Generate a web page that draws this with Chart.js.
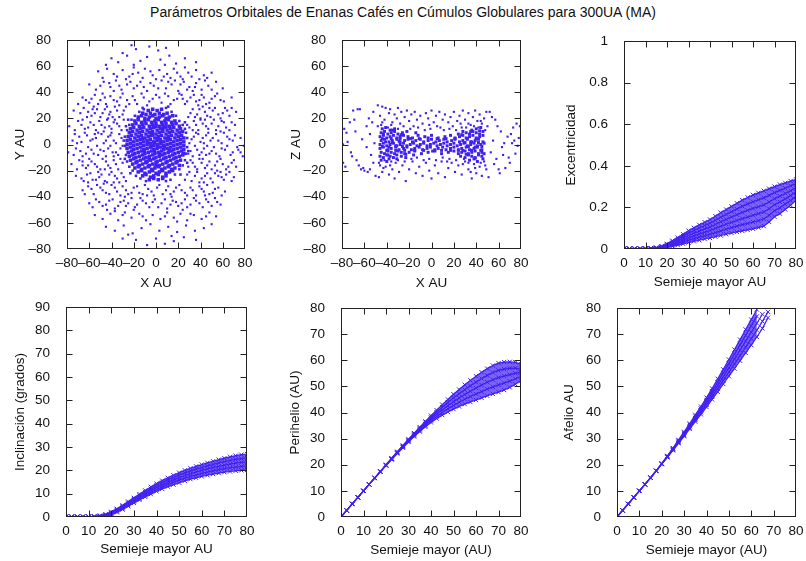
<!DOCTYPE html>
<html><head><meta charset="utf-8">
<script src="https://cdn.jsdelivr.net/npm/chart.js@4.4.1/dist/chart.umd.min.js"></script>
<style>
html,body{margin:0;padding:0;background:#fff;width:806px;height:561px;overflow:hidden;}
canvas{position:absolute;left:0;top:0;}
#title{position:absolute;left:0;width:806px;top:4px;text-align:center;font:14px 'Liberation Sans',Arial,sans-serif;color:#111;line-height:16px;}
</style></head><body>
<div id="title">Parámetros Orbitales de Enanas Cafés en Cúmulos Globulares para 300UA (MA)</div>
<canvas id="c1" width="806" height="561"></canvas>
<canvas id="c2" width="806" height="561"></canvas>
<canvas id="c3" width="806" height="561"></canvas>
<canvas id="c4" width="806" height="561"></canvas>
<canvas id="c5" width="806" height="561"></canvas>
<canvas id="c6" width="806" height="561"></canvas>
<script>
// ---------- tick values & labels ----------
const posTicks = [-80,-60,-40,-20,0,20,40,60,80];
const posLabels = ['–80','–60','–40','–20','0','20','40','60','80'];
const semiTicks = [0,10,20,30,40,50,60,70,80];
const semiLabels = ['0','10','20','30','40','50','60','70','80'];
const eccTicks = [0,0.2,0.4,0.6,0.8,1];
const eccLabels = ['0','0.2','0.4','0.6','0.8','1'];
const incTicks = [0,10,20,30,40,50,60,70,80,90];
const incLabels = ['0','10','20','30','40','50','60','70','80','90'];
const distTicks = [0,10,20,30,40,50,60,70,80];
const distLabels = ['0','10','20','30','40','50','60','70','80'];

// ---------- X-Y positions (flat x,y pairs) ----------
const xyCore = [
-7,26,-3,27,1,26,5,27,
-12,24,-9,23,-5,24,-1,23,3,24,7,23,10,24,
-16,21,-13,22,-10,20,-6,21,-3,22,0,20,3,21,6,22,9,20,12,21,15,22,
-19,18,-16,19,-13,17,-10,18,-7,19,-4,17,-1,18,2,19,5,17,8,18,11,19,14,17,17,18,
-21,15,-18,16,-15,14,-12,15,-9,16,-6,14,-3,15,0,16,3,14,6,15,9,16,12,14,15,15,18,16,21,14,
-23,12,-20,13,-17,11,-14,12,-11,13,-8,11,-5,12,-2,13,1,11,4,12,7,13,10,11,13,12,16,13,19,11,22,12,
-24,9,-21,10,-18,8,-15,9,-12,10,-9,8,-6,9,-3,10,0,8,3,9,6,10,9,8,12,9,15,10,18,8,21,9,24,10,
-25,6,-22,7,-19,5,-16,6,-13,7,-10,5,-7,6,-4,7,-1,5,2,6,5,7,8,5,11,6,14,7,17,5,20,6,23,7,25,5,
-26,3,-23,4,-20,2,-17,3,-14,4,-11,2,-8,3,-5,4,-2,2,1,3,4,4,7,2,10,3,13,4,16,2,19,3,22,4,25,2,
-26,0,-23,1,-20,-1,-17,0,-14,1,-11,-1,-8,0,-5,1,-2,-1,1,0,4,1,7,-1,10,0,13,1,16,-1,19,0,22,1,25,-1,
-26,-3,-23,-2,-20,-4,-17,-3,-14,-2,-11,-4,-8,-3,-5,-2,-2,-4,1,-3,4,-2,7,-4,10,-3,13,-2,16,-4,19,-3,22,-2,25,-4,
-25,-6,-22,-5,-19,-7,-16,-6,-13,-5,-10,-7,-7,-6,-4,-5,-1,-7,2,-6,5,-5,8,-7,11,-6,14,-5,17,-7,20,-6,23,-5,25,-7,
-24,-9,-21,-8,-18,-10,-15,-9,-12,-8,-9,-10,-6,-9,-3,-8,0,-10,3,-9,6,-8,9,-10,12,-9,15,-8,18,-10,21,-9,24,-8,
-23,-12,-20,-11,-17,-13,-14,-12,-11,-11,-8,-13,-5,-12,-2,-11,1,-13,4,-12,7,-11,10,-13,13,-12,16,-11,19,-13,22,-12,
-21,-15,-18,-14,-15,-16,-12,-15,-9,-14,-6,-16,-3,-15,0,-14,3,-16,6,-15,9,-14,12,-16,15,-15,18,-14,21,-16,
-19,-18,-16,-17,-13,-19,-10,-18,-7,-17,-4,-19,-1,-18,2,-17,5,-19,8,-18,11,-17,14,-19,17,-18,
-16,-21,-13,-20,-10,-22,-6,-21,-3,-20,0,-22,3,-21,6,-20,9,-22,12,-21,15,-20,
-12,-24,-9,-23,-5,-25,-2,-24,2,-23,6,-25,9,-24,
-6,-27,-2,-26,2,-27,6,-26,
-1.5,1.5,1.5,-1.5,-4.5,-1.5,4.5,1.5,-1.5,-4.5,1.5,4.5,-7.5,1.5,7.5,-1.5,-3,7.5,3,-7.5,
-10.5,-4.5,10.5,4.5,-6,-10.5,6,10.5,-12,4.5,12,-4.5,0,14,0,-16,-9,-13.5,9,13.5
];
const xyRim = [
-11,27,9,28,-15,25,14,25,-19,22,18,22,-22,19,21,18,-24,15,24,15,-26,11,26,12,-28,6,28,5,-28,-1,28,-2,
-27,-8,27,-7,-26,-13,26,-12,-24,-17,24,-16,-21,-20,21,-19,-18,-24,17,-23,-14,-26,13,-27,-9,-28,9,-28,
-25,19,-27,14,26,17,27,9,-29,3,29,-5,-28,-11,28,-14,-23,-22,22,-23,-12,28,11,29
];
const xyOuter = [
-22,76,-18,73,-6,75,2,72,9,74,-30,70,
-40,66,-34,63,-26,68,-14,64,-8,67,4,65,12,68,18,62,26,66,36,63,-45,61,-20,61,8,61,
-52,56,-44,58,-38,54,-30,57,-24,52,-16,55,-10,58,-3,53,3,57,10,54,16,58,22,52,29,55,36,57,43,53,50,55,-48,51,-20,59,26,59,
-60,46,-54,42,-47,48,-41,44,-36,49,-31,42,-26,46,-20,43,-14,48,-8,41,-2,45,5,49,9,43,14,46,20,41,25,48,30,44,36,47,41,42,47,45,54,48,60,43,-38,41,-11,44,17,49,33,41,44,49,
-66,36,-60,32,-55,38,-50,34,-45,31,-41,37,-35,33,-30,39,-26,34,-21,37,-17,31,-11,36,-6,33,0,38,5,32,11,37,16,34,21,39,26,31,31,36,36,33,41,38,45,31,50,35,55,39,61,33,68,36,-48,39,-33,30,24,35,38,30,-70,31,
-74,26,-65,28,-58,22,-53,27,-48,24,-44,29,-39,21,-35,26,-30,23,-27,29,29,21,33,27,37,23,42,29,46,22,51,26,56,23,62,28,66,22,72,25,-62,21,-42,23,48,28,58,20,-56,29,40,20,
-78,14,-70,18,-64,12,-59,17,-54,11,-49,15,-44,19,-40,12,-35,16,-31,11,30,13,34,18,38,11,42,16,47,12,52,19,56,14,61,17,66,11,71,15,-46,13,-37,19,44,19,58,10,-67,15,
-80,5,-73,8,-67,2,-62,7,-57,4,-52,9,-47,1,-43,6,-38,3,-33,8,32,4,36,9,40,2,45,7,49,3,54,8,59,1,64,6,69,3,76,5,79,-1,-55,8,-40,9,42,5,-71,1,
-79,-6,-72,-3,-66,-9,-61,-2,-56,-7,-50,-4,-45,-9,-41,-1,-36,-6,-32,-3,31,-5,35,-1,39,-8,43,-3,48,-7,52,-2,57,-9,62,-4,67,-8,73,-2,78,-9,-53,-1,-38,-9,46,-1,76,-6,
-76,-15,-69,-12,-63,-18,-58,-13,-53,-17,-48,-11,-43,-16,-38,-12,-34,-19,-30,-14,31,-12,35,-17,39,-11,44,-18,48,-13,53,-16,58,-11,63,-19,68,-14,72,-17,-60,-11,-46,-19,41,-14,55,-20,-66,-16,
-72,-24,-65,-28,-59,-22,-54,-27,-49,-23,-44,-29,-40,-21,-35,-26,-31,-22,-27,-28,28,-23,32,-28,37,-21,41,-26,46,-22,51,-29,56,-24,61,-27,66,-21,70,-25,-52,-21,-38,-29,43,-29,58,-21,-61,-29,
-66,-35,-61,-32,-56,-38,-50,-33,-45,-37,-40,-31,-35,-36,-30,-32,-25,-38,-20,-33,-15,-37,-10,-31,-4,-36,1,-33,6,-38,11,-32,16,-36,21,-31,26,-37,31,-33,36,-39,41,-34,46,-31,51,-37,56,-33,62,-36,-47,-30,-28,-40,14,-40,44,-39,-8,-39,
-60,-45,-54,-42,-48,-47,-42,-43,-37,-49,-32,-44,-27,-47,-22,-41,-17,-46,-12,-43,-6,-48,-1,-42,5,-45,10,-49,15,-43,20,-47,26,-42,31,-46,36,-43,42,-48,47,-44,53,-41,58,-46,-44,-50,24,-50,-20,-50,
-55,-54,-48,-57,-41,-53,-34,-58,-28,-52,-22,-56,-15,-53,-9,-58,-3,-54,4,-57,10,-52,16,-56,22,-53,28,-58,34,-54,41,-57,48,-52,54,-55,-37,-51,19,-59,
-45,-63,-37,-66,-29,-62,-21,-68,-13,-64,-5,-61,3,-66,11,-63,19,-67,27,-62,35,-66,43,-64,50,-61,-25,-69,14,-70,
-18,-73,-8,-77,0,-72,8,-76,16,-74,-30,-72,25,-71,36,-73
];
const xyMid = [
-35,52,-27,50,-21,54,-12,51,-5,56,0,50,7,52,13,51,19,55,24,50,32,52,39,50,46,51,-42,47,-33,45,-23,48,-17,45,-5,47,2,43,11,48,22,46,28,42,35,44,50,42,-50,45,
-58,35,-52,31,-46,36,-38,34,-32,36,-24,31,-19,34,-13,39,-8,30,-3,35,3,36,8,39,13,31,19,35,23,38,28,33,34,38,39,34,43,36,48,32,53,37,58,34,-63,34,
-68,24,-61,25,-55,24,-50,21,-46,27,-41,25,-37,29,-33,21,-29,26,31,24,35,21,39,27,44,25,49,21,53,28,60,24,64,26,68,28,-43,20,-57,27,
-73,11,-66,19,-61,13,-56,15,-51,18,-47,10,-42,14,-38,17,-33,14,-29,19,28,15,33,11,36,15,40,19,45,14,50,16,54,11,59,18,63,13,68,17,
-69,6,-64,9,-59,3,-54,5,-49,8,-45,3,-41,7,-36,1,-31,5,30,1,34,6,38,8,43,1,47,9,51,5,56,3,61,9,66,4,71,7,-75,3,
-74,-8,-68,-5,-63,-7,-58,-4,-52,-8,-47,-5,-43,-3,-39,-6,-34,-8,-30,-1,29,-7,33,-9,37,-4,41,-6,45,-8,50,-5,54,-7,59,-3,64,-1,69,-6,74,-4,
-71,-19,-66,-13,-61,-16,-55,-15,-50,-19,-45,-13,-41,-18,-36,-15,-32,-11,29,-17,33,-14,37,-19,42,-11,46,-16,50,-19,55,-13,60,-15,65,-17,70,-12,
-67,-26,-62,-23,-57,-27,-51,-25,-46,-28,-42,-23,-37,-24,-33,-29,-29,-25,26,-27,30,-21,35,-24,39,-29,44,-24,49,-26,53,-22,59,-25,63,-23,68,-28,
-64,-38,-58,-34,-53,-31,-48,-35,-42,-38,-37,-33,-32,-39,-27,-35,-22,-37,-17,-32,-12,-38,-7,-34,-2,-39,3,-31,9,-35,13,-38,18,-33,23,-35,28,-39,33,-35,39,-32,43,-36,48,-38,53,-34,59,-39,
-57,-48,-51,-44,-45,-46,-39,-42,-34,-47,-29,-43,-25,-45,-19,-48,-14,-41,-9,-45,-3,-44,2,-48,8,-42,13,-46,18,-44,23,-45,28,-48,34,-41,39,-45,45,-42,50,-47,55,-44,-30,-54,-12,-55,8,-55,31,-53,45,-55
];

// ---------- X-Z positions (flat x,z pairs) ----------
const xzFar = [
-80,24,-78,12,-79,-14,-77,-17,-75,2,-73,17,-72,-6,-70,26,-68,10,-67,-12,-66,27,-64,27,-63,-19,-62,4,-61,-18,-60,-20,-58,14,-58,-2,-57,-21,-56,20,-55,8,-55,-19,-54,-8,-53,17,-52,25,-52,-14,-51,1,-50,-24,-79,0,-76,9,-71,-9,-65,-16,-69,19,
79,14,78,5,77,-1,76,16,75,-7,74,3,73,13,72,1,70,-14,69,-10,68,6,66,-18,65,1,63,-2,62,10,61,-22,60,-19,59,14,57,19,56,-15,55,3,54,21,53,-6,52,25,51,-25,50,14,80,2,71,8,64,-8,58,-11
];
const xzScatter = [
-48,30,-44,29,-41,28,-37,27,-33,23,-30,28,-46,22,-42,19,-38,24,-35,17,-31,20,-27,25,-24,21,-22,26,-20,18,-18,23,-15,25,-13,19,-10,22,-8,16,-5,24,-3,20,0,26,2,17,4,22,7,25,10,19,12,23,15,17,17,21,20,25,23,18,25,22,28,26,30,19,33,24,35,15,37,21,39,26,41,18,43,23,45,16,47,20,49,25,-45,15,-28,16,-16,14,-2,15,8,13,19,14,26,16,42,13,-39,13,31,13,
-47,-25,-44,-21,-41,-17,-38,-23,-35,-19,-32,-14,-29,-21,-26,-16,-23,-28,-20,-19,-17,-13,-14,-22,-11,-17,-8,-24,-5,-14,-2,-20,0,-26,3,-16,6,-22,9,-13,12,-25,15,-18,18,-14,21,-21,24,-16,27,-23,30,-13,33,-19,36,-26,38,-15,40,-22,43,-17,45,-24,47,-13,49,-19,-42,-12,-36,-13,-46,-16,14,-13,28,-15,-33,-26,35,-21,
-48,14,-44,17,-36,15,-30,12,-25,14,-19,12,-12,13,-6,11,-1,12,5,14,11,11,16,12,22,11,27,13,33,16,38,14,44,18,48,11,
-47,-14,-43,-18,-37,-16,-30,-12,-24,-13,-18,-11,-13,-10,-7,-12,-2,-11,4,-12,10,-10,16,-11,22,-12,29,-11,33,-14,39,-18,44,-14,48,-16
];
const xzBelt = [
-46,0,-43,1,-40,-1,-37,0,-34,1,-31,-1,-28,0,-25,1,-22,-1,-19,0,-16,1,-13,-1,-10,0,-7,1,-4,-1,-1,0,2,1,5,-1,8,0,11,1,14,-1,17,0,20,1,23,-1,26,0,29,1,32,-1,35,0,38,1,41,-1,44,0,47,1,
-45,3,-42,4,-38,2,-35,3,-31,4,-28,2,-24,3,-21,4,-17,2,-14,3,-10,4,-7,2,-3,3,0,4,4,2,7,3,11,4,14,2,18,3,21,4,25,2,28,3,32,4,35,2,39,3,42,4,46,2,
-46,-3,-43,-2,-39,-4,-36,-3,-32,-2,-29,-4,-25,-3,-22,-2,-18,-4,-15,-3,-11,-2,-8,-4,-4,-3,-1,-2,3,-4,6,-3,10,-2,13,-4,17,-3,20,-2,24,-4,27,-3,31,-2,34,-4,38,-3,41,-2,45,-4,
-46,6,-43,7,-40,5,-37,6,-34,7,-31,5,-28,6,-25,7,-21,6,-17,5,-12,7,-6,6,0,7,6,5,12,6,17,7,21,5,25,6,28,7,31,5,34,6,37,7,40,5,43,6,46,7,
-45,-6,-42,-7,-39,-5,-36,-6,-33,-7,-30,-5,-27,-6,-24,-7,-20,-6,-15,-5,-9,-7,-3,-6,3,-5,9,-7,15,-6,20,-5,24,-7,27,-6,30,-5,33,-7,36,-6,39,-5,42,-7,45,-6,
-45,9,-42,10,-39,8,-36,9,-33,10,-30,8,-26,9,-22,10,-14,9,24,8,28,10,31,9,34,8,37,10,40,9,43,8,46,10,
-46,-9,-43,-10,-40,-8,-37,-9,-34,-10,-31,-8,-27,-9,-23,-10,-16,-8,26,-9,30,-10,33,-8,36,-9,39,-10,42,-8,45,-9,
-44,12,-41,13,-37,11,-33,12,36,11,40,12,44,13,
-45,-12,-40,-13,-38,-11,34,-12,38,-11,41,-13,46,-11,
-44,-1.5,-41,2,-38,-2,-35,1.5,-32,-1,-29,2.5,-26,-1.5,30,1.5,33,-1.5,36,2,39,-2,42,1.5,45,-1.5,
-44,4.5,-40,-4.5,-36,4.5,-32,-4.5,-28,4.5,-24,-4.5,28,-4.5,32,4.5,36,-4.5,40,4.5,44,-4.5,
-43,8,-39,-8,-35,11,-31,-11,-27,7.5,-23,-7.5,27,7.5,31,-7.5,35,10,39,-10.5,43,10.5,47,-7,
-19,4.5,-15,-4.5,-11,4.5,-7,-4.5,-3,5,1,-5,5,4.5,9,-4.5,13,4.5,17,-4.5,21,4.5,24,-4.5
];

// ---------- orbital elements vs semi-major axis ----------
const semi = [0,2.5,5,7.5,10,12.5,15,17.5,20,22.5,25,27.5,30,32.5,35,37.5,40,42.5,45,47.5,50,52.5,55,57.5,60,62.5,65,67.5,70,72.5,75,77.5,80];

const ecc1 = [0,0,0,0,0,0,0.001,0.004,0.008,0.013,0.019,0.025,0.031,0.037,0.042,0.048,0.053,0.059,0.065,0.071,0.077,0.082,0.087,0.092,0.097,0.103,0.11,0.13,0.155,0.17,0.19,0.21,0.235];
const ecc2 = [0,0,0,0,0.001,0.001,0.002,0.006,0.011,0.018,0.026,0.034,0.042,0.05,0.057,0.064,0.071,0.079,0.087,0.095,0.103,0.11,0.117,0.123,0.13,0.136,0.144,0.162,0.184,0.198,0.216,0.233,0.255];
const ecc3 = [0.001,0.001,0.001,0.001,0.001,0.002,0.003,0.008,0.015,0.024,0.033,0.043,0.054,0.063,0.072,0.08,0.089,0.099,0.109,0.119,0.128,0.137,0.146,0.154,0.162,0.17,0.178,0.194,0.213,0.226,0.241,0.257,0.275];
const ecc4 = [0.001,0.001,0.001,0.002,0.002,0.003,0.005,0.01,0.018,0.029,0.041,0.053,0.065,0.076,0.086,0.097,0.106,0.118,0.131,0.142,0.154,0.165,0.176,0.186,0.195,0.203,0.212,0.226,0.242,0.254,0.267,0.28,0.295];
const ecc5 = [0.002,0.002,0.002,0.002,0.003,0.004,0.006,0.012,0.022,0.035,0.048,0.062,0.077,0.089,0.101,0.113,0.124,0.138,0.153,0.166,0.179,0.192,0.205,0.217,0.227,0.237,0.246,0.258,0.271,0.282,0.292,0.304,0.315];
const ecc6 = [0.002,0.002,0.002,0.002,0.003,0.004,0.007,0.014,0.025,0.04,0.055,0.071,0.088,0.102,0.116,0.129,0.142,0.158,0.175,0.19,0.205,0.22,0.235,0.248,0.26,0.27,0.28,0.29,0.3,0.31,0.318,0.327,0.335];

const inc1 = [0,0,0,0,0,0,0.1,0.4,1.0,2.0,3.2,4.6,6.0,7.3,8.6,9.8,11.0,12.0,13.0,13.9,14.7,15.5,16.2,16.8,17.4,17.9,18.4,18.8,19.2,19.5,19.8,20.0,20.2];
const inc2 = [0.05,0.05,0.05,0.05,0.05,0.1,0.2,0.6,1.3,2.4,3.7,5.1,6.6,7.9,9.3,10.6,11.8,12.9,14.0,14.9,15.8,16.6,17.4,18.0,18.7,19.2,19.8,20.3,20.7,21.1,21.4,21.7,21.9];
const inc3 = [0.1,0.1,0.1,0.1,0.1,0.15,0.35,0.8,1.6,2.8,4.1,5.6,7.1,8.6,10.0,11.4,12.7,13.8,14.9,15.9,16.9,17.8,18.6,19.3,20.0,20.6,21.2,21.7,22.2,22.7,23.1,23.4,23.6];
const inc4 = [0.15,0.15,0.15,0.15,0.15,0.2,0.5,1.0,1.9,3.1,4.6,6.1,7.7,9.2,10.7,12.1,13.5,14.7,15.9,16.9,17.9,18.9,19.7,20.5,21.2,21.9,22.5,23.2,23.7,24.2,24.7,25.0,25.3];
const inc5 = [0.2,0.2,0.2,0.2,0.2,0.3,0.6,1.2,2.2,3.5,5.0,6.6,8.2,9.8,11.4,12.9,14.3,15.6,16.8,17.9,19.0,20.0,20.9,21.7,22.5,23.2,23.9,24.6,25.2,25.8,26.3,26.7,27.0];

const peri1 = [0,2.5,5,7.5,10,12.5,14.9,17.3,19.7,22.0,24.3,26.5,28.7,30.8,32.7,34.5,36.2,37.7,39.0,40.2,41.3,42.3,43.2,44.0,44.8,45.6,46.4,47.1,47.8,48.6,49.6,50.8,52.2];
const peri2 = [0,2.5,5,7.5,10,12.5,14.9,17.35,19.8,22.1,24.5,26.7,29.0,31.1,33.1,35.0,36.9,38.5,40.0,41.4,42.7,43.9,45.1,46.1,47.1,48.0,49.0,49.8,50.6,51.3,52.0,52.9,53.8];
const peri3 = [0,2.5,5,7.5,10,12.5,14.95,17.4,19.85,22.25,24.65,26.95,29.25,31.45,33.55,35.55,37.5,39.3,41.0,42.6,44.15,45.55,46.9,48.15,49.35,50.5,51.6,52.55,53.35,53.95,54.5,55.0,55.35];
const peri4 = [0,2.5,5,7.5,10,12.5,15.0,17.45,19.9,22.4,24.8,27.2,29.5,31.8,34.0,36.1,38.1,40.1,42.0,43.8,45.6,47.2,48.7,50.2,51.6,53.0,54.2,55.3,56.1,56.6,56.9,57.0,56.5];
const peri5 = [0,2.5,5,7.5,10,12.5,15,17.5,20,22.5,25,27.4,29.8,32.1,34.4,36.6,38.8,40.9,43.0,45.0,47.0,48.8,50.6,52.3,53.9,55.4,56.8,58.0,58.9,59.3,59.4,59.2,58.5];

const aph1 = [0,2.5,5,7.5,10,12.5,15.0,17.6,20.2,22.8,25.5,28.2,30.9,33.7,36.5,39.3,42.1,45.0,47.9,50.9,53.9,56.8,59.8,62.8,65.8,68.9,72.2,76.3];
const aph2 = [0,2.5,5,7.5,10,12.5,15.0,17.6,20.3,22.95,25.7,28.5,31.3,34.2,37.15,40.05,43.0,46.05,49.15,52.3,55.5,58.6,61.8,65.05,68.25,71.5,74.9,78.5];
const aph3 = [0,2.5,5,7.5,10,12.5,15.05,17.65,20.35,23.1,25.95,28.85,31.75,34.75,37.8,40.8,43.9,47.1,50.4,53.7,57.1,60.45,63.85,67.3,70.7,74.15,77.6];
const aph4 = [0,2.5,5,7.5,10,12.5,15.1,17.7,20.4,23.25,26.2,29.2,32.2,35.3,38.45,41.55,44.8,48.15,51.65,55.1,58.7,62.3,65.9,69.55,73.15,76.8];
const aph5 = [0,2.5,5,7.5,10,12.5,15.1,17.7,20.5,23.4,26.4,29.5,32.6,35.8,39.1,42.3,45.7,49.2,52.9,56.5,60.3,64.1,67.9,71.8,75.6,79.4];

// ---------- helpers ----------
const BLUE = 'rgb(64,32,240)';
const BAND = 'rgba(64,32,240,0.7)';
const FONT = {family: "'Liberation Sans', Arial, Helvetica, sans-serif", size: 13.5};
const TXT = '#111';
function pairs(a){const o=[];for(let i=0;i<a.length;i+=2)o.push({x:a[i],y:a[i+1]});return o;}
function track(xs, ys){const o=[];ys.forEach((y,i)=>{if(y!=null)o.push({x:xs[i],y});});return o;}
function dots(arr, r){return {data:pairs(arr), pointStyle:'rect', pointRadius:r, backgroundColor:BLUE, borderWidth:0, pointBorderWidth:0, showLine:false};}
function lines(list){
  return list.map((ys,i)=>({data:track(semi, ys), showLine:true, borderColor:BLUE, borderWidth:1.2,
    pointStyle:'crossRot', pointRadius:3, pointBorderWidth:1, pointBorderColor:BLUE,
    backgroundColor:BAND, fill: i===list.length-1 ? 0 : false, tension:0}));
}

const frame = {id:'frame', afterDatasetsDraw(chart){
  const {ctx, chartArea, scales} = chart;
  const L=Math.round(chartArea.left)+0.5, R=Math.round(chartArea.right)-0.5, T=Math.round(chartArea.top)+0.5, B=Math.round(chartArea.bottom)-0.5;
  ctx.save(); ctx.strokeStyle='#222'; ctx.lineWidth=1;
  ctx.strokeRect(L,T,R-L,B-T);
  ctx.beginPath();
  scales.x.ticks.forEach(t=>{const p=Math.round(scales.x.getPixelForValue(t.value))+0.5; if(p<=L+1||p>=R-1)return; ctx.moveTo(p,B); ctx.lineTo(p,B-6); ctx.moveTo(p,T); ctx.lineTo(p,T+6);});
  scales.y.ticks.forEach(t=>{const p=Math.round(scales.y.getPixelForValue(t.value))+0.5; if(p<=T+1||p>=B-1)return; ctx.moveTo(L,p); ctx.lineTo(L+6,p); ctx.moveTo(R,p); ctx.lineTo(R-6,p);});
  ctx.stroke(); ctx.restore();
}};

function axis(a, isX, g){
  return {type:'linear', position: isX?'bottom':'left', min:a.min, max:a.max,
    afterBuildTicks: s=>{ s.ticks = a.ticks.map(v=>({value:v})); },
    afterFit: s=>{ if(isX) s.height=g.xH; else s.width=g.yW; },
    ticks:{autoSkip:false, maxRotation:0, minRotation:0, padding: isX?-2:8, font:FONT, color:TXT, callback:(v,i)=>a.labels[i]},
    grid:{display:false}, border:{display:false},
    title:{display:true, text:a.title, font:FONT, color:TXT, padding:0}};
}
function make(id, g, xa, ya, datasets){
  new Chart(document.getElementById(id), {
    type:'scatter', data:{datasets},
    options:{responsive:false, animation:false, events:[],
      layout:{padding:{left:g.pl, right:g.pr, top:g.pt, bottom:g.pb}},
      plugins:{legend:{display:false}, tooltip:{enabled:false}},
      scales:{x:axis(xa,true,g), y:axis(ya,false,g)}},
    plugins:[frame]});
}

const posX = {min:-80,max:80,ticks:posTicks,labels:posLabels,title:'X AU'};
make('c1', {pl:12,yW:55,pr:561,pt:40,pb:270,xH:42}, posX,
  {min:-80,max:80,ticks:posTicks,labels:posLabels,title:'Y AU'},
  [dots(xyOuter,1.5), dots(xyMid,1.5), dots(xyRim,1.8), dots(xyCore,2.5)]);
make('c2', {pl:288,yW:54,pr:285,pt:40,pb:270,xH:42}, posX,
  {min:-80,max:80,ticks:posTicks,labels:posLabels,title:'Z AU'},
  [dots(xzFar,1.5), dots(xzScatter,1.5), dots(xzBelt,2.1)]);
make('c3', {pl:563,yW:61,pr:10,pt:41,pb:271,xH:41},
  {min:0,max:80,ticks:semiTicks,labels:semiLabels,title:'Semieje mayor AU'},
  {min:0,max:1,ticks:eccTicks,labels:eccLabels,title:'Excentricidad'},
  lines([ecc1,ecc2,ecc3,ecc4,ecc5,ecc6]));
make('c4', {pl:12,yW:54,pr:559,pt:307,pb:4,xH:40},
  {min:0,max:80,ticks:semiTicks,labels:semiLabels,title:'Semieje mayor AU'},
  {min:0,max:90,ticks:incTicks,labels:incLabels,title:'Inclinación (grados)'},
  lines([inc1,inc2,inc3,inc4,inc5]));
make('c5', {pl:287,yW:54,pr:285,pt:308,pb:3,xH:41},
  {min:0,max:80,ticks:semiTicks,labels:semiLabels,title:'Semieje mayor (AU)'},
  {min:0,max:80,ticks:distTicks,labels:distLabels,title:'Perihelio (AU)'},
  lines([peri1,peri2,peri3,peri4,peri5]));
make('c6', {pl:561,yW:56,pr:10,pt:308,pb:3,xH:41},
  {min:0,max:80,ticks:semiTicks,labels:semiLabels,title:'Semieje mayor (AU)'},
  {min:0,max:80,ticks:distTicks,labels:distLabels,title:'Afelio AU'},
  lines([aph1,aph2,aph3,aph4,aph5]));
</script>
</body></html>
